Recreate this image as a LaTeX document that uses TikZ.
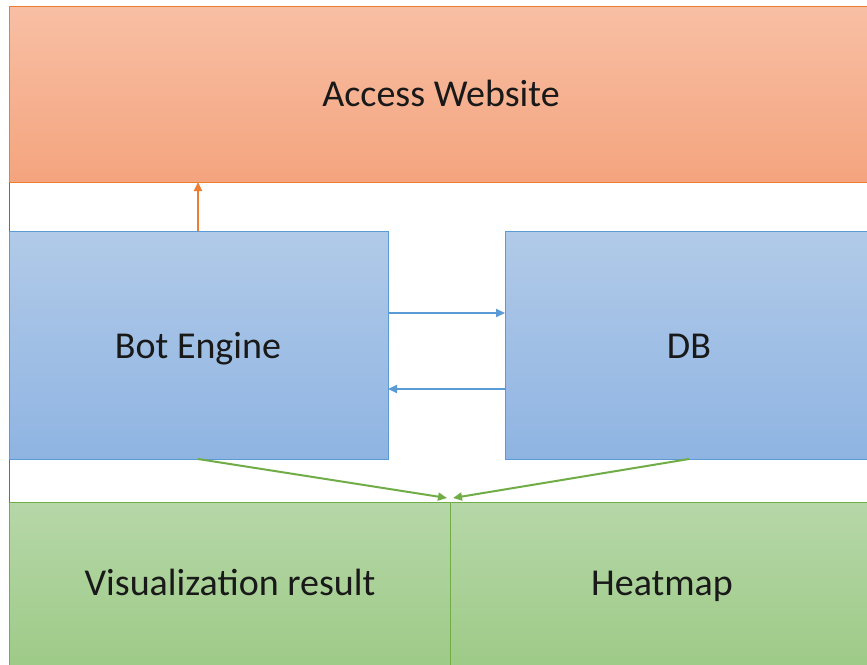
\documentclass[tikz,border=0pt]{standalone}
\usepackage{fontspec}
\setmainfont{Carlito}
\usetikzlibrary{arrows.meta}
\definecolor{obord}{HTML}{ED7D31}
\definecolor{otop}{HTML}{F8BFA4}
\definecolor{obot}{HTML}{F4A47E}
\definecolor{bbord}{HTML}{5B9BD5}
\definecolor{btop}{HTML}{B1CAE8}
\definecolor{bbot}{HTML}{8FB4E2}
\definecolor{gbord}{HTML}{70AD47}
\definecolor{gtop}{HTML}{B6D7A8}
\definecolor{gbot}{HTML}{9DCA86}
\definecolor{edgeblue}{HTML}{4472C4}
\tikzset{
  box/.style={rectangle, anchor=north west, inner sep=0pt, line width=1.1pt},
  orangebox/.style={box, draw=obord, top color=otop, bottom color=obot},
  bluebox/.style={box, draw=bbord, top color=btop, bottom color=bbot},
  greenbox/.style={box, draw=gbord, top color=gtop, bottom color=gbot},
  conn/.style={line width=2pt, -{Triangle[length=9pt,width=8pt]}},
  lbl/.style={anchor=base, inner sep=0pt, font=\fontsize{38}{44}\selectfont, text=black!90},
}
\begin{document}
\begin{tikzpicture}[x=1pt,y=-1pt]
\useasboundingbox (0,0) rectangle (867,664);
\clip (0,0) rectangle (867,664);
\fill[white] (0,0) rectangle (867,664);
\draw[edgeblue, line width=1.2pt] (9.5,182) -- (9.5,502);
\node[orangebox, minimum width=870pt, minimum height=176pt] (web) at (9,6) {};
\node[lbl] (webtxt) at (441,106) {Access Website};
\node[bluebox, minimum width=379pt, minimum height=228pt] (bot) at (9,231) {};
\node[lbl] (bottxt) at (198,358) {Bot Engine};
\node[bluebox, minimum width=370pt, minimum height=228pt] (db) at (505,231) {};
\node[lbl] (dbtxt) at (689,358) {DB};
\node[greenbox, minimum width=441pt, minimum height=170pt] (vis) at (9,502) {};
\node[lbl] (vistxt) at (230,595) {Visualization result};
\node[greenbox, minimum width=425pt, minimum height=170pt] (heat) at (450,502) {};
\node[lbl] (heattxt) at (662,595) {Heatmap};
\coordinate (botN) at (198,231);
\coordinate (webS) at (198,182);
\coordinate (botS) at (198,459);
\coordinate (dbS) at (689,459);
\coordinate (visN) at (447,498);
\coordinate (heatN) at (453,498);
\coordinate (bot1) at (388,313);
\coordinate (db1) at (505,313);
\coordinate (bot2) at (388,389);
\coordinate (db2) at (505,389);
\draw[conn, draw=obord, fill=obord] (botN) -- (webS);
\draw[conn, draw=bbord, fill=bbord] (bot1) -- (db1);
\draw[conn, draw=bbord, fill=bbord] (db2) -- (bot2);
\draw[conn, draw=gbord, fill=gbord] (botS) -- (visN);
\draw[conn, draw=gbord, fill=gbord] (dbS) -- (heatN);
\end{tikzpicture}
\end{document}
